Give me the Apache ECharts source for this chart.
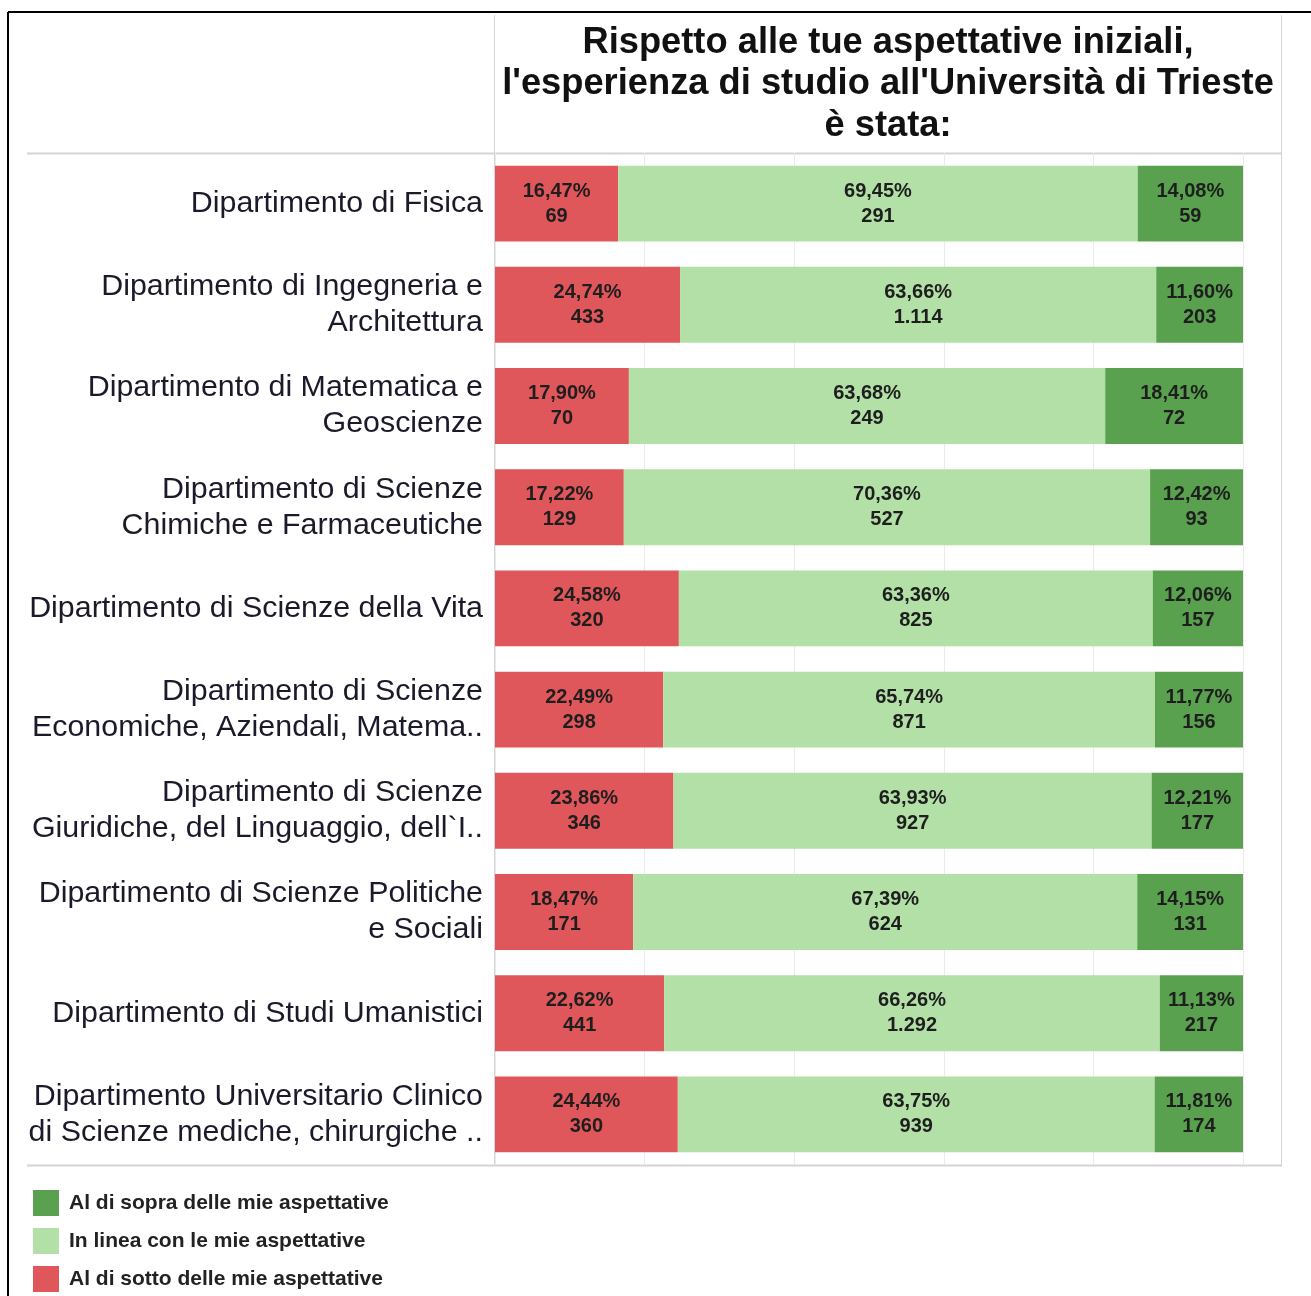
<!DOCTYPE html>
<html>
<head>
<meta charset="utf-8">
<script src="https://cdn.jsdelivr.net/npm/echarts@6/dist/echarts.min.js"></script>
<style>
  html, body { margin: 0; padding: 0; background: #fff; }
  #chart { width: 1311px; height: 1296px; }
</style>
</head>
<body>
<div id="chart"></div>
<script>
  // dipartimenti (a capo come nel grafico originale)
  const departments = [
    'Dipartimento di Fisica',
    'Dipartimento di Ingegneria e\nArchitettura',
    'Dipartimento di Matematica e\nGeoscienze',
    'Dipartimento di Scienze\nChimiche e Farmaceutiche',
    'Dipartimento di Scienze della Vita',
    'Dipartimento di Scienze\nEconomiche, Aziendali, Matema..',
    'Dipartimento di Scienze\nGiuridiche, del Linguaggio, dell`I..',
    'Dipartimento di Scienze Politiche\ne Sociali',
    'Dipartimento di Studi Umanistici',
    'Dipartimento Universitario Clinico\ndi Scienze mediche, chirurgiche ..'
  ]

  const belowPct = [16.47, 24.74, 17.90, 17.22, 24.58, 22.49, 23.86, 18.47, 22.62, 24.44]
  const belowCount = [69, 433, 70, 129, 320, 298, 346, 171, 441, 360]
  const inlinePct = [69.45, 63.66, 63.68, 70.36, 63.36, 65.74, 63.93, 67.39, 66.26, 63.75]
  const inlineCount = [291, 1114, 249, 527, 825, 871, 927, 624, 1292, 939]
  const abovePct = [14.08, 11.60, 18.41, 12.42, 12.06, 11.77, 12.21, 14.15, 11.13, 11.81]
  const aboveCount = [59, 203, 72, 93, 157, 156, 177, 131, 217, 174]

  const nameBelow = 'Al di sotto delle mie aspettative'
  const nameInline = 'In linea con le mie aspettative'
  const nameAbove = 'Al di sopra delle mie aspettative'

  const fmtPct = v => v.toFixed(2).replace('.', ',') + '%'
  const fmtInt = v => String(v).replace(/\B(?=(\d{3})+(?!\d))/g, '.')

  const FONT = 'Arial, "Liberation Sans", sans-serif'
  const gray = '#d4d4d4'

  const makeSeries = (name, pct, counts, color) => ({
    name,
    type: 'bar',
    stack: 'tot',
    barWidth: '75%',
    data: pct,
    itemStyle: { color },
    label: {
      show: true,
      position: 'inside',
      formatter: p => fmtPct(pct[p.dataIndex]) + '\n' + fmtInt(counts[p.dataIndex]),
      color: '#1e1e1e',
      fontFamily: FONT,
      fontWeight: 'bold',
      fontSize: 20,
      lineHeight: 25
    },
    emphasis: { disabled: true }
  })

  const chart = echarts.init(document.getElementById('chart'))

  const option = {
    animation: false,
    backgroundColor: '#fff',
    title: {
      text: "Rispetto alle tue aspettative iniziali,\nl'esperienza di studio all'Università di Trieste\nè stata:",
      left: 883,
      top: 17,
      textAlign: 'center',
      textStyle: {
        fontFamily: FONT,
        fontWeight: 'bold',
        fontSize: 36.3,
        lineHeight: 41.5,
        color: '#111'
      }
    },
    legend: {
      orient: 'vertical',
      left: 33,
      top: 1190,
      padding: 0,
      itemWidth: 26,
      itemHeight: 26,
      itemGap: 12,
      icon: 'rect',
      selectedMode: false,
      data: [nameAbove, nameInline, nameBelow],
      textStyle: {
        fontFamily: FONT,
        fontWeight: 'bold',
        fontSize: 21,
        color: '#222',
        padding: [2, 0, 0, 5]
      }
    },
    grid: {
      left: 495,
      top: 153,
      width: 748,
      height: 1012,
      containLabel: false
    },
    xAxis: {
      type: 'value',
      min: 0,
      max: 100,
      interval: 20,
      axisLabel: { show: false },
      axisLine: { show: false },
      axisTick: { show: false },
      splitLine: { lineStyle: { color: '#ebebeb', width: 1 } }
    },
    yAxis: {
      type: 'category',
      inverse: true,
      data: departments,
      axisLine: { show: false },
      axisTick: { show: false },
      axisLabel: {
        margin: 12,
        align: 'right',
        fontFamily: FONT,
        fontSize: 30.4,
        lineHeight: 36,
        color: '#1a1a2a'
      }
    },
    series: [
      makeSeries(nameBelow, belowPct, belowCount, '#e0575b'),
      makeSeries(nameInline, inlinePct, inlineCount, '#b3e0a7'),
      makeSeries(nameAbove, abovePct, aboveCount, '#59a14f')
    ],
    graphic: [
      // cornice esterna
      { type: 'line', shape: { x1: 8, y1: 12, x2: 1311, y2: 12 }, style: { stroke: '#000', lineWidth: 2 } },
      { type: 'line', shape: { x1: 8, y1: 12, x2: 8, y2: 1296 }, style: { stroke: '#000', lineWidth: 2 } },
      // intestazione / riquadro
      { type: 'line', shape: { x1: 494.5, y1: 15, x2: 494.5, y2: 1165 }, style: { stroke: gray, lineWidth: 1 } },
      { type: 'line', shape: { x1: 1281.5, y1: 15, x2: 1281.5, y2: 1165 }, style: { stroke: gray, lineWidth: 1 } },
      { type: 'line', shape: { x1: 27, y1: 153.5, x2: 1282, y2: 153.5 }, style: { stroke: gray, lineWidth: 2 } },
      { type: 'line', shape: { x1: 27, y1: 1165.5, x2: 1282, y2: 1165.5 }, style: { stroke: gray, lineWidth: 2 } }
    ]
  }

  chart.setOption(option)
  window.addEventListener('resize', () => {
    chart.resize()
  })
</script>
</body>
</html>
